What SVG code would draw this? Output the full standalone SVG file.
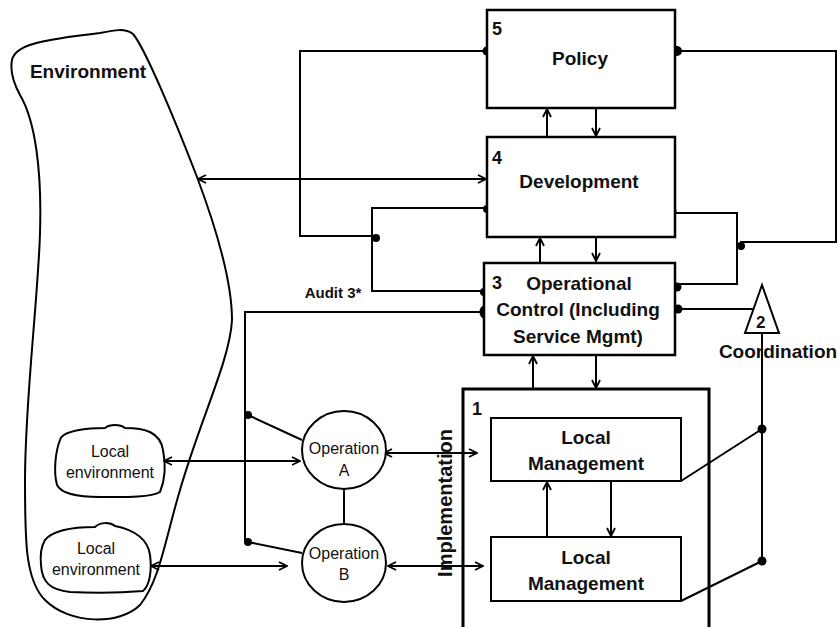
<svg xmlns="http://www.w3.org/2000/svg" width="839" height="627" viewBox="0 0 839 627">
<defs>
<marker id="arr" viewBox="0 0 10 10" refX="9" refY="5" markerWidth="10" markerHeight="10" markerUnits="userSpaceOnUse" orient="auto-start-reverse">
<path d="M1,1 L9,5 L1,9" fill="none" stroke="#000" stroke-width="1.8"/>
</marker>
<style>
.ln{fill:none;stroke:#000;stroke-width:2}
.ar{fill:none;stroke:#000;stroke-width:2;marker-end:url(#arr)}
.da{fill:none;stroke:#000;stroke-width:2;marker-start:url(#arr);marker-end:url(#arr)}
.box{fill:#fff;stroke:#000;stroke-width:2.5}
.shape{fill:none;stroke:#000;stroke-width:2}
.dot{fill:#000}
.t{font-family:"Liberation Sans",Arial,sans-serif;font-weight:bold;font-size:19px;fill:#111;text-anchor:middle}
.n{font-family:"Liberation Sans",Arial,sans-serif;font-weight:bold;font-size:18px;fill:#111}
.s{font-family:"Liberation Sans",Arial,sans-serif;font-size:16px;fill:#111;text-anchor:middle}
</style>
</defs>
<rect width="839" height="627" fill="#fff"/>

<g id="environment">
<path class="shape" d="M12,60 C15,45 40,40 100,33 C115,30 125,28 133,34 C145,48 175,120 197,177 C215,225 232,280 232,320 C230,360 200,420 180,490 C165,540 160,580 140,605 C120,625 70,625 45,600 C25,580 25,540 25,480 C25,400 38,300 40,233 C42,170 35,120 20,95 C12,80 10,70 12,60 Z"/>
<text class="t" x="88" y="78">Environment</text>
</g>

<g id="connectors">
<path class="ln" d="M487,51 H300 V236 H372"/>
<circle class="dot" cx="487" cy="51" r="4.5"/>
<circle class="dot" cx="376" cy="238" r="4"/>
<path class="ln" d="M487,208 H372 V291 H484"/>
<circle class="dot" cx="487" cy="209" r="4"/>
<circle class="dot" cx="484" cy="292" r="4"/>
<path class="ln" d="M484,312 H245 V542"/>
<ellipse class="dot" cx="484" cy="312" rx="4.5" ry="6.5"/>
<path class="ln" d="M248,415 L302,440"/>
<circle class="dot" cx="248" cy="415" r="4"/>
<path class="ln" d="M248,542 L302,553"/>
<circle class="dot" cx="248" cy="542" r="4"/>
<path class="da" d="M198,179 H486"/>
<path class="ln" d="M675,51 H836 V242 H740"/>
<circle class="dot" cx="677" cy="51" r="5"/>
<circle class="dot" cx="741" cy="246" r="4"/>
<path class="ln" d="M675,213 H737 V284 H675"/>
<circle class="dot" cx="672" cy="211" r="4.5"/>
<circle class="dot" cx="677" cy="287" r="4.5"/>
<path class="ln" d="M675,309 H753"/>
<circle class="dot" cx="678" cy="309" r="4.5"/>
<path class="ln" d="M762,333 V561"/>
<circle class="dot" cx="762" cy="429" r="4.5"/>
<circle class="dot" cx="762" cy="561" r="4.5"/>
<path class="ln" d="M681,481 L762,429"/>
<path class="ln" d="M681,601 L762,561"/>
<path class="ar" d="M547,137 V109"/>
<path class="ar" d="M596,108 V136"/>
<path class="ar" d="M540,262 V238"/>
<path class="ar" d="M596,237 V261"/>
<path class="ar" d="M533,389 V356"/>
<path class="ar" d="M596,355 V388"/>
<path class="ar" d="M547,537 V482"/>
<path class="ar" d="M611,481 V536"/>
<path class="da" d="M384,453 H477"/>
<path class="da" d="M388,566 H483"/>
<path class="da" d="M164,461 H300"/>
<path class="da" d="M151,566 H287"/>
<path class="ln" d="M344,489 V524"/>
</g>

<g id="policy">
<rect class="box" x="487" y="10" width="188" height="98"/>
<text class="n" x="492" y="35">5</text>
<text class="t" x="580" y="65">Policy</text>
</g>

<g id="development">
<rect class="box" x="487" y="137" width="188" height="100"/>
<text class="n" x="492" y="164">4</text>
<text class="t" x="579" y="188">Development</text>
</g>

<g id="operational-control">
<rect class="box" x="484" y="263" width="191" height="92"/>
<text class="n" x="492" y="289">3</text>
<text class="t" x="579" y="290">Operational</text>
<text class="t" x="578" y="316">Control (Including</text>
<text class="t" x="578" y="343">Service Mgmt)</text>
</g>

<g id="audit">
<text class="s" x="333" y="298" style="font-size:15px;font-weight:bold">Audit 3*</text>
</g>

<g id="coordination">
<polygon points="762,285 745,333 779,333" fill="#fff" stroke="#000" stroke-width="2"/>
<text class="n" x="756" y="328" style="font-size:17px">2</text>
<text class="t" x="778" y="358">Coordination</text>
</g>

<g id="implementation">
<rect x="463" y="389" width="246" height="270" fill="none" stroke="#000" stroke-width="3"/>
<text class="n" x="472" y="415">1</text>
<text class="t" transform="translate(452,503) rotate(-90)" style="font-size:20px">Implementation</text>
</g>

<g id="local-management-1">
<rect class="box" x="491" y="418" width="190" height="63" style="stroke-width:2"/>
<text class="t" x="586" y="444">Local</text>
<text class="t" x="586" y="470">Management</text>
</g>

<g id="local-management-2">
<rect class="box" x="491" y="537" width="190" height="64" style="stroke-width:2"/>
<text class="t" x="586" y="564">Local</text>
<text class="t" x="586" y="590">Management</text>
</g>

<g id="operation-a">
<ellipse cx="344" cy="450" rx="42" ry="39" fill="#fff" stroke="#000" stroke-width="2"/>
<text class="s" x="344" y="454">Operation</text>
<text class="s" x="344" y="476">A</text>
</g>

<g id="operation-b">
<ellipse cx="344" cy="563" rx="42" ry="39" fill="#fff" stroke="#000" stroke-width="2"/>
<text class="s" x="344" y="559">Operation</text>
<text class="s" x="344" y="580">B</text>
</g>

<g id="local-environment-1">
<path class="shape" d="M60,440 C62,430 90,428 105,428 C110,424 120,424 125,428 C145,428 160,432 163,450 C166,465 165,480 160,492 C150,498 120,497 100,497 C80,497 62,495 57,485 C53,470 56,450 60,440 Z" fill="#fff"/>
<text class="s" x="110" y="457">Local</text>
<text class="s" x="110" y="478">environment</text>
</g>

<g id="local-environment-2">
<path class="shape" d="M45,540 C55,528 80,527 95,527 C100,522 110,522 115,526 C135,530 148,540 150,555 C152,570 150,585 143,591 C120,593 90,593 70,592 C50,590 42,582 41,565 C40,555 42,545 45,540 Z" fill="#fff"/>
<text class="s" x="96" y="554">Local</text>
<text class="s" x="96" y="575">environment</text>
</g>
</svg>
